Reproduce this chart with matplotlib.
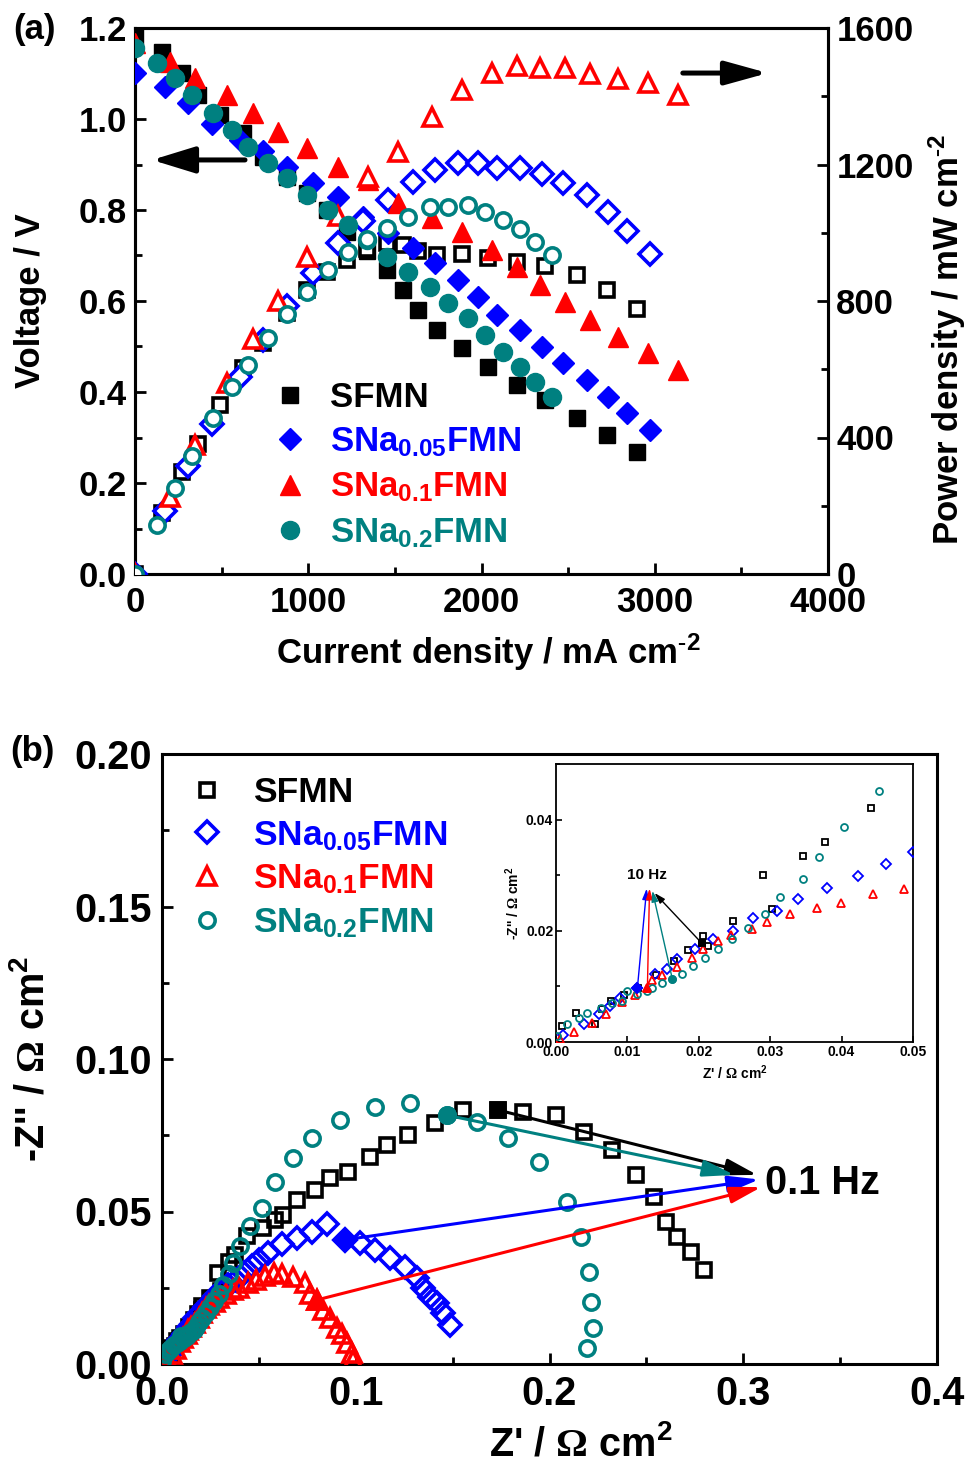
import matplotlib
matplotlib.use('Agg')
import matplotlib.pyplot as plt
from matplotlib.ticker import MultipleLocator, FormatStrFormatter

plt.rcParams['font.family'] = ['Liberation Sans', 'DejaVu Sans']
plt.rcParams['font.weight'] = 'bold'
plt.rcParams['axes.labelweight'] = 'bold'
plt.rcParams['mathtext.fontset'] = 'custom'
plt.rcParams['mathtext.rm'] = 'Liberation Serif'
plt.rcParams['mathtext.bf'] = 'Liberation Sans:bold'
plt.rcParams['mathtext.it'] = 'Liberation Sans:bold'
plt.rcParams['mathtext.sf'] = 'Liberation Sans:bold'

# ---------------- data: panel (a) ----------------
names = ['SFMN', 'SNa0.05FMN', 'SNa0.1FMN', 'SNa0.2FMN']
labels = ['SFMN', r'SNa$_{\mathbf{0.05}}$FMN', r'SNa$_{\mathbf{0.1}}$FMN', r'SNa$_{\mathbf{0.2}}$FMN']
colors = ['#000000', '#0000FF', '#FF0000', '#008080']

sfmn_I = [0, 156, 271, 363, 490, 623, 739, 877, 993, 1108, 1223, 1339, 1454, 1546, 1633, 1743, 1887, 2037, 2204, 2366, 2550, 2724, 2897]
sfmn_V = [1.18, 1.147, 1.10, 1.053, 1.009, 0.969, 0.916, 0.873, 0.837, 0.800, 0.752, 0.710, 0.668, 0.624, 0.580, 0.536, 0.497, 0.455, 0.415, 0.382, 0.343, 0.305, 0.268]
sfmn_P = [0, 179, 298, 382, 494, 604, 677, 766, 831, 886, 920, 951, 971, 965, 947, 934, 938, 927, 915, 904, 875, 831, 776]

na05_I = [0, 173, 306, 444, 606, 739, 877, 1027, 1171, 1316, 1460, 1604, 1731, 1864, 1979, 2089, 2222, 2348, 2470, 2608, 2729, 2839, 2972]
na05_V = [1.10, 1.07, 1.035, 0.99, 0.954, 0.93, 0.894, 0.859, 0.829, 0.785, 0.75, 0.716, 0.684, 0.646, 0.609, 0.569, 0.536, 0.499, 0.464, 0.426, 0.389, 0.354, 0.316]
na05_P = [0, 185, 317, 440, 578, 687, 784, 882, 971, 1033, 1095, 1148, 1184, 1204, 1205, 1189, 1191, 1172, 1146, 1111, 1062, 1005, 939]

na1_I = [0, 202, 346, 531, 681, 825, 993, 1171, 1344, 1518, 1714, 1887, 2060, 2204, 2337, 2481, 2625, 2787, 2960, 3133]
na1_V = [1.167, 1.125, 1.09, 1.053, 1.013, 0.971, 0.936, 0.895, 0.866, 0.815, 0.782, 0.752, 0.712, 0.675, 0.635, 0.598, 0.558, 0.521, 0.486, 0.448]
na1_P = [0, 227, 377, 559, 690, 801, 929, 1048, 1164, 1237, 1340, 1419, 1467, 1488, 1484, 1484, 1465, 1452, 1439, 1404]

na2_I = [0, 127, 231, 329, 450, 560, 652, 768, 877, 993, 1114, 1229, 1339, 1454, 1575, 1702, 1806, 1921, 2019, 2123, 2221, 2308, 2406]
na2_V = [1.156, 1.123, 1.090, 1.053, 1.013, 0.976, 0.938, 0.903, 0.870, 0.833, 0.800, 0.767, 0.734, 0.697, 0.664, 0.631, 0.596, 0.563, 0.525, 0.488, 0.455, 0.422, 0.389]
na2_P = [0, 143, 252, 346, 456, 547, 612, 693, 763, 827, 891, 943, 983, 1013, 1046, 1074, 1076, 1082, 1060, 1036, 1011, 974, 936]

# ---------------- data: panel (b) ----------------
sfmn_zre = [0.0008, 0.0028, 0.0054, 0.0065, 0.0077, 0.0095, 0.0115, 0.0140, 0.0165, 0.0185, 0.0204, 0.0206, 0.0213, 0.0248, 0.0290, 0.0303, 0.0346, 0.0377, 0.0441, 0.0521, 0.0582, 0.0624, 0.0696, 0.0789, 0.0866, 0.0959, 0.1072, 0.1160, 0.1268, 0.1407, 0.1552, 0.1732, 0.1861, 0.2036, 0.2180, 0.2325, 0.2448, 0.2541, 0.2603, 0.2660, 0.2732, 0.2799]
sfmn_zim = [0.0029, 0.0052, 0.0032, 0.0060, 0.0074, 0.0085, 0.0098, 0.0120, 0.0145, 0.0165, 0.0178, 0.0191, 0.0172, 0.0218, 0.0300, 0.0240, 0.0335, 0.0359, 0.0420, 0.0446, 0.0472, 0.0489, 0.0538, 0.0570, 0.0610, 0.0630, 0.0679, 0.0718, 0.0751, 0.0790, 0.0833, 0.0833, 0.0826, 0.0816, 0.0761, 0.0702, 0.0620, 0.0548, 0.0466, 0.0416, 0.0367, 0.0308]

na05_zre = [0.0010, 0.0039, 0.0060, 0.0075, 0.0089, 0.0114, 0.0138, 0.0155, 0.0170, 0.0194, 0.0220, 0.0248, 0.0276, 0.0310, 0.0339, 0.0380, 0.0423, 0.0462, 0.0500, 0.0546, 0.0619, 0.0696, 0.0773, 0.0851, 0.0943, 0.1021, 0.1098, 0.1175, 0.1253, 0.1314, 0.1345, 0.1381, 0.1418, 0.1448, 0.1485]
na05_zim = [0.0012, 0.0032, 0.0050, 0.0065, 0.0079, 0.0097, 0.0122, 0.0131, 0.0150, 0.0168, 0.0186, 0.0200, 0.0223, 0.0236, 0.0258, 0.0277, 0.0299, 0.0320, 0.0342, 0.0364, 0.0392, 0.0413, 0.0432, 0.0460, 0.0407, 0.0397, 0.0374, 0.0348, 0.0318, 0.0282, 0.0249, 0.0220, 0.0200, 0.0167, 0.0128]

na1_zre = [0.0005, 0.0025, 0.0051, 0.0070, 0.0093, 0.0110, 0.0128, 0.0135, 0.0149, 0.0169, 0.0190, 0.0206, 0.0227, 0.0245, 0.0275, 0.0296, 0.0328, 0.0366, 0.0399, 0.0444, 0.0487, 0.0530, 0.0580, 0.0619, 0.0675, 0.0737, 0.0763, 0.0799, 0.0830, 0.0866, 0.0902, 0.0928, 0.0954, 0.0979, 0.0985]
na1_zim = [0.0005, 0.0018, 0.0034, 0.0050, 0.0072, 0.0085, 0.0097, 0.0112, 0.0121, 0.0135, 0.0151, 0.0167, 0.0182, 0.0192, 0.0204, 0.0215, 0.0230, 0.0241, 0.0250, 0.0267, 0.0276, 0.0290, 0.0300, 0.0295, 0.0285, 0.0265, 0.0230, 0.0210, 0.0177, 0.0150, 0.0118, 0.0098, 0.0068, 0.0036, 0.0012]

na2_zre = [0.0001, 0.0015, 0.0032, 0.0044, 0.0063, 0.0079, 0.0093, 0.0100, 0.0113, 0.0128, 0.0135, 0.0149, 0.0163, 0.0177, 0.0192, 0.0208, 0.0227, 0.0246, 0.0269, 0.0293, 0.0314, 0.0346, 0.0368, 0.0403, 0.0452, 0.0515, 0.0582, 0.0675, 0.0773, 0.0918, 0.1098, 0.1278, 0.1469, 0.1624, 0.1784, 0.1948, 0.2088, 0.2165, 0.2206, 0.2216, 0.2222, 0.2196]
na2_zim = [0.0010, 0.0032, 0.0043, 0.0052, 0.0061, 0.0070, 0.0074, 0.0092, 0.0086, 0.0092, 0.0097, 0.0106, 0.0113, 0.0122, 0.0137, 0.0151, 0.0168, 0.0186, 0.0205, 0.0230, 0.0260, 0.0294, 0.0332, 0.0386, 0.0452, 0.0511, 0.0597, 0.0675, 0.0741, 0.0800, 0.0843, 0.0856, 0.0816, 0.0793, 0.0741, 0.0662, 0.0531, 0.0416, 0.0302, 0.0203, 0.0118, 0.0052]

idx_10hz = [10, 5, 6, 12]
idx_01hz = [31, 24, 27, 32]
tip_10hz = [(0.0138, 0.0268), (0.0127, 0.0276), (0.0131, 0.0276), (0.0135, 0.0272)]
tip_01hz = [(0.3072, 0.0620), (0.3082, 0.0605), (0.3093, 0.0580), (0.2954, 0.0620)]

I_all = [sfmn_I, na05_I, na1_I, na2_I]
V_all = [sfmn_V, na05_V, na1_V, na2_V]
P_all = [sfmn_P, na05_P, na1_P, na2_P]
zre_all = [sfmn_zre, na05_zre, na1_zre, na2_zre]
zim_all = [sfmn_zim, na05_zim, na1_zim, na2_zim]

markers = ['s', 'D', '^', 'o']
ms_a = [11, 11, 14, 13]
ms_a_open = [10, 11, 13, 11]
ms_b = [10, 11, 13, 11]
ms_in = [5, 5.5, 6, 5]

OHM = r'$\mathrm{\Omega}$'
SUP_M2 = r'$^{\mathbf{\text{-}2}}$'
SUP_2 = r'$^{\mathbf{2}}$'

fig = plt.figure(figsize=(9.67, 14.65), dpi=100)
W, H = 967.0, 1465.0

# ---------------- panel (a) ----------------
ax = fig.add_axes([135 / W, 1 - 574 / H, (828 - 135) / W, (574 - 28) / H])
ax2 = ax.twinx()
ax.set_zorder(ax2.get_zorder() + 1)
ax.patch.set_visible(False)
handles_a = []
for k in range(4):
    h, = ax.plot(I_all[k], V_all[k], linestyle='none', marker=markers[k], ms=ms_a[k],
                 color=colors[k], mec=colors[k], mew=1, zorder=3 + 2 * k)
    handles_a.append(h)
    ax.plot(I_all[k], [p * 1.2 / 1600 for p in P_all[k]], linestyle='none', marker=markers[k],
            ms=ms_a_open[k], mfc='white', mec=colors[k], mew=2.6, zorder=4 + 2 * k)

ax.set_xlim(0, 4000)
ax.set_ylim(0, 1.2)
ax2.set_ylim(0, 1600)
ax.xaxis.set_major_locator(MultipleLocator(1000))
ax.xaxis.set_minor_locator(MultipleLocator(500))
ax.yaxis.set_major_locator(MultipleLocator(0.2))
ax.yaxis.set_minor_locator(MultipleLocator(0.1))
ax.yaxis.set_major_formatter(FormatStrFormatter('%.1f'))
ax2.yaxis.set_major_locator(MultipleLocator(400))
ax2.yaxis.set_minor_locator(MultipleLocator(200))
fs_a = 25
for a in (ax, ax2):
    a.tick_params(which='major', direction='in', length=8, width=2, labelsize=fs_a, pad=6)
    a.tick_params(which='minor', direction='in', length=5, width=2)
    for s in a.spines.values():
        s.set_linewidth(2.2)
ax.tick_params(axis='x', pad=9)
ax.tick_params(axis='y', right=False, which='both')
ax.set_xlabel('Current density / mA cm' + SUP_M2, fontsize=fs_a)
ax.xaxis.set_label_coords(0.51, -0.105)
ax.set_ylabel('Voltage / V', fontsize=fs_a)
ax.yaxis.set_label_coords(-0.127, 0.5)
ax2.set_ylabel('Power density / mW cm' + SUP_M2, fontsize=fs_a)
ax2.yaxis.set_label_coords(1.142, 0.43)

ax.annotate('', xy=(98, 0.91), xytext=(635, 0.91),
            arrowprops=dict(arrowstyle='-|>,head_length=1.3,head_width=0.4', mutation_scale=20,
                            lw=3.6, color='black', shrinkA=0, shrinkB=0), zorder=20)
ax.annotate('', xy=(3653, 1.101), xytext=(3162, 1.101),
            arrowprops=dict(arrowstyle='-|>,head_length=1.3,head_width=0.36', mutation_scale=20,
                            lw=3.6, color='black', shrinkA=0, shrinkB=0), zorder=20)

leg = ax.legend(handles_a, labels, loc='upper left', bbox_to_anchor=(0.169, 0.385),
                frameon=False, fontsize=fs_a, handletextpad=0.55, labelspacing=0.33,
                borderpad=0, handlelength=1.2)
for t, c in zip(leg.get_texts(), colors):
    t.set_color(c)
fig.text(13 / W, 1 - 30 / H, '(a)', fontsize=25, va='center', ha='left')

# ---------------- panel (b) ----------------
bx = fig.add_axes([162 / W, 1 - 1364 / H, (937 - 162) / W, (1364 - 754) / H])
handles_b = []
for k in range(4):
    h, = bx.plot(zre_all[k], zim_all[k], linestyle='none', marker=markers[k], ms=ms_b[k],
                 mfc='none', mec=colors[k], mew=2.6, zorder=3 + k)
    handles_b.append(h)
for k in range(4):
    i = idx_01hz[k]
    bx.plot([zre_all[k][i]], [zim_all[k][i]], linestyle='none', marker=markers[k], ms=ms_b[k],
            color=colors[k], mec=colors[k], mew=2.6, zorder=8)
    bx.annotate('', xy=tip_01hz[k], xytext=(zre_all[k][i], zim_all[k][i]),
                arrowprops=dict(arrowstyle='-|>,head_length=0.95,head_width=0.25', mutation_scale=20,
                                lw=2.2, color=colors[k], shrinkA=0, shrinkB=0), zorder=9)
bx.text(0.311, 0.0594, '0.1 Hz', fontsize=28.5, va='center', ha='left')

bx.set_xlim(0, 0.4)
bx.set_ylim(0, 0.2)
bx.xaxis.set_major_locator(MultipleLocator(0.1))
bx.xaxis.set_minor_locator(MultipleLocator(0.05))
bx.yaxis.set_major_locator(MultipleLocator(0.05))
bx.yaxis.set_minor_locator(MultipleLocator(0.025))
bx.xaxis.set_major_formatter(FormatStrFormatter('%.1f'))
bx.yaxis.set_major_formatter(FormatStrFormatter('%.2f'))
fs_b = 28.5
bx.tick_params(which='major', direction='in', length=8, width=2, labelsize=fs_b, pad=7)
bx.tick_params(which='minor', direction='in', length=5, width=2)
bx.tick_params(axis='x', pad=8)
for s in bx.spines.values():
    s.set_linewidth(2.2)
bx.set_xlabel("Z' / " + OHM + " cm" + SUP_2, fontsize=fs_b)
bx.xaxis.set_label_coords(0.54, -0.1)
bx.set_ylabel("-Z'' / " + OHM + " cm" + SUP_2, fontsize=fs_b)
bx.yaxis.set_label_coords(-0.142, 0.5)

legb = bx.legend(handles_b, labels, loc='upper left', bbox_to_anchor=(0.008, 0.993),
                 frameon=False, fontsize=25.5, handletextpad=0.7, labelspacing=0.28,
                 borderpad=0, handlelength=1.2)
for t, c in zip(legb.get_texts(), colors):
    t.set_color(c)
fig.text(10 / W, 1 - 752 / H, '(b)', fontsize=25, va='center', ha='left')

# ---------------- inset ----------------
ix = fig.add_axes([556 / W, 1 - 1042 / H, (913 - 556) / W, (1042 - 764) / H])
for k in range(4):
    ix.plot(zre_all[k], zim_all[k], linestyle='none', marker=markers[k], ms=ms_in[k],
            mfc='none', mec=colors[k], mew=1.3, zorder=3 + k)
for k in range(4):
    i = idx_10hz[k]
    ix.plot([zre_all[k][i]], [zim_all[k][i]], linestyle='none', marker=markers[k], ms=ms_in[k],
            color=colors[k], mec=colors[k], mew=1.3, zorder=8)
    ix.annotate('', xy=tip_10hz[k], xytext=(zre_all[k][i], zim_all[k][i]),
                arrowprops=dict(arrowstyle='-|>,head_length=0.8,head_width=0.25', mutation_scale=8,
                                lw=1.0, color=colors[k], shrinkA=0, shrinkB=0), zorder=9)
ix.text(0.0128, 0.0300, '10 Hz', fontsize=11, ha='center', va='center')
ix.set_xlim(0, 0.05)
ix.set_ylim(0, 0.05)
ix.xaxis.set_major_locator(MultipleLocator(0.01))
ix.yaxis.set_major_locator(MultipleLocator(0.02))
ix.yaxis.set_minor_locator(MultipleLocator(0.01))
ix.xaxis.set_major_formatter(FormatStrFormatter('%.2f'))
ix.yaxis.set_major_formatter(FormatStrFormatter('%.2f'))
ix.tick_params(which='major', direction='in', length=4, width=1.2, labelsize=10, pad=2)
ix.tick_params(which='minor', direction='in', length=3, width=1.2)
for s in ix.spines.values():
    s.set_linewidth(1.3)
ix.set_xlabel("Z' / " + OHM + " cm" + SUP_2, fontsize=10, labelpad=3)
ix.set_ylabel("-Z'' / " + OHM + " cm" + SUP_2, fontsize=10, labelpad=3)

fig.savefig('out.png', dpi=100)
